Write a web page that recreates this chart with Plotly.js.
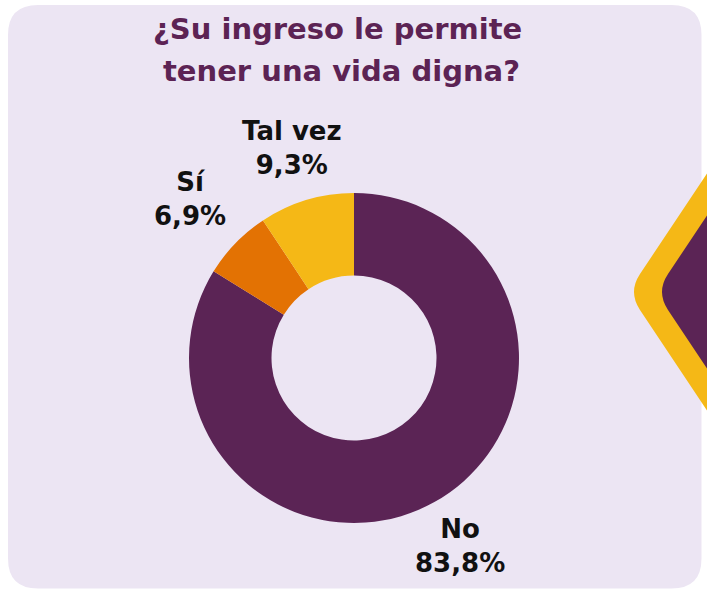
<!DOCTYPE html>
<html>
<head>
<meta charset="utf-8">
<script src="https://cdn.plot.ly/plotly-3.0.1.min.js"></script>
<style>html,body{margin:0;padding:0;background:#fff;}#chart{width:707px;height:590px;}</style>
</head>
<body>
<div id="chart"></div>
<script>
// Data
const categories = ["No", "Sí", "Tal vez"];
const values = [83.8, 6.9, 9.3];
const sliceColors = ["#5b2455", "#e37203", "#f5b816"];
// label anchor positions (px) for each category
const labelPos = [[460, 546], [190, 199], [292, 148]];
const titleLines = ["¿Su ingreso le permite", "tener una vida digna?"];
const titlePos = [[337, 29], [341, 71]];

const W = 707, H = 590;
const px = x => x / W;
const py = y => 1 - y / H;
const P = (x, y) => px(x).toFixed(5) + "," + py(y).toFixed(5);

function roundRect(x0, y0, x1, y1, r) {
  return "M" + P(x0 + r, y0) + " L" + P(x1 - r, y0) + " Q" + P(x1, y0) + " " + P(x1, y0 + r) +
    " L" + P(x1, y1 - r) + " Q" + P(x1, y1) + " " + P(x1 - r, y1) +
    " L" + P(x0 + r, y1) + " Q" + P(x0, y1) + " " + P(x0, y1 - r) +
    " L" + P(x0, y0 + r) + " Q" + P(x0, y0) + " " + P(x0 + r, y0) + " Z";
}
function diamond(vx, vy, s, ext) {
  const a = 12;
  return "M" + P(ext, vy - s * (ext - vx)) + " L" + P(vx + a, vy - s * a) +
    " Q" + P(vx, vy) + " " + P(vx + a, vy + s * a) +
    " L" + P(ext, vy + s * (ext - vx)) + " Z";
}

const fmt = v => v.toFixed(1).replace(".", ",") + "%";
const lblFont = {family: "'DejaVu Sans', sans-serif", size: 26, color: "#111111"};

const annotations = categories.map((c, i) => ({
  xref: "paper", yref: "paper", x: px(labelPos[i][0]), y: py(labelPos[i][1]),
  xanchor: "center", yanchor: "middle", showarrow: false,
  text: "<b>" + c + "<br>" + fmt(values[i]) + "</b>", font: lblFont, align: "center"
}));
titleLines.forEach((t, i) => annotations.push({
  xref: "paper", yref: "paper", x: px(titlePos[i][0]), y: py(titlePos[i][1]), xanchor: "center", yanchor: "middle",
  showarrow: false, text: "<b>" + t + "</b>", align: "center",
  font: {family: "'DejaVu Sans', sans-serif", size: 29, color: "#5c2354"}
}));

const trace = {
  type: "pie", labels: categories, values: values, hole: 0.5, sort: false,
  direction: "clockwise", rotation: 0, textinfo: "none", hoverinfo: "label+percent",
  marker: {colors: sliceColors, line: {width: 0}},
  domain: {x: [px(189), px(519)], y: [py(523), py(193)]}, showlegend: false
};

const layout = {
  width: W, height: H, margin: {l: 0, r: 0, t: 0, b: 0},
  paper_bgcolor: "#ffffff", plot_bgcolor: "#ffffff", showlegend: false,
  shapes: [
    {type: "path", xref: "paper", yref: "paper", layer: "below", path: roundRect(8, 5, 701.5, 588.5, 30),
     fillcolor: "#ece5f3", line: {width: 0}},
    {type: "path", xref: "paper", yref: "paper", layer: "below", path: diamond(628, 292, 1.5, 780),
     fillcolor: "#f5b816", line: {width: 0}},
    {type: "path", xref: "paper", yref: "paper", layer: "below", path: diamond(656, 292, 1.5, 780),
     fillcolor: "#5b2455", line: {width: 0}}
  ],
  annotations: annotations
};

Plotly.newPlot("chart", [trace], layout, {displayModeBar: false, staticPlot: true});
</script>
</body>
</html>
